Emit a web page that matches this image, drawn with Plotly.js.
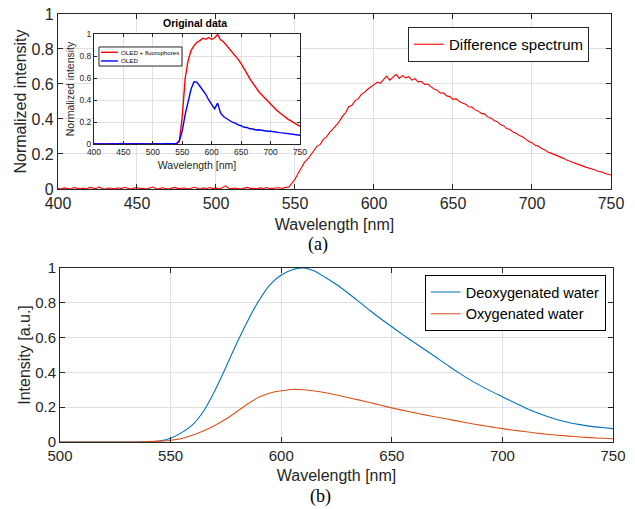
<!DOCTYPE html>
<html>
<head>
<meta charset="utf-8">
<script src="https://cdn.plot.ly/plotly-3.0.1.min.js"></script>
<style>html,body{margin:0;padding:0;background:#fff;}#chart{width:635px;height:509px;}</style>
</head>
<body>
<div id="chart"></div>
<script>
// ---- (a) main: difference spectrum, 400..750 nm every 2 nm ----
const diffStart = 400, diffStep = 2;
const diffValues = [
  0.004,0.000,0.006,0.002,0.000,0.008,0.003,0.001,0.005,0.000,
  0.009,0.004,0.002,0.012,0.003,0.000,0.006,0.004,0.001,0.007,
  0.002,0.010,0.003,0.000,0.005,0.008,0.002,0.004,0.000,0.006,
  0.011,0.003,0.001,0.007,0.004,0.000,0.005,0.009,0.002,0.004,
  0.006,0.001,0.003,0.010,0.004,0.000,0.006,0.003,0.008,0.002,
  0.005,0.001,0.007,0.018,0.004,0.002,0.006,0.003,0.000,0.005,
  0.009,0.002,0.004,0.001,0.006,0.003,0.008,0.002,0.005,0.004,
  0.007,0.003,0.009,0.010,0.030,0.055,0.090,0.118,0.152,0.170,
  0.195,0.215,0.245,0.255,0.285,0.298,0.325,0.342,0.365,0.385,
  0.415,0.435,0.470,0.478,0.505,0.515,0.540,0.552,0.570,0.585,
  0.598,0.610,0.605,0.628,0.645,0.622,0.638,0.655,0.632,0.648,
  0.635,0.642,0.622,0.630,0.612,0.615,0.598,0.600,0.585,0.572,
  0.565,0.548,0.550,0.532,0.528,0.512,0.515,0.500,0.492,0.485,
  0.470,0.468,0.452,0.445,0.432,0.428,0.412,0.405,0.392,0.385,
  0.368,0.362,0.345,0.340,0.325,0.318,0.305,0.298,0.285,0.272,
  0.265,0.250,0.245,0.232,0.225,0.212,0.205,0.198,0.190,0.180,
  0.175,0.165,0.160,0.152,0.145,0.140,0.132,0.125,0.120,0.112,
  0.108,0.100,0.098,0.090,0.087,0.080
];
const diffWavelength = diffValues.map((_, i) => diffStart + diffStep * i);

// ---- (a) inset: original data, 400..750 nm every 5 nm ----
const insetStart = 400, insetStep = 5;
const oledFluorValues = [
  0.002,0.000,0.004,0.001,0.000,0.003,0.000,0.002,0.000,0.004,
  0.001,0.000,0.003,0.000,0.002,0.001,0.000,0.004,0.000,0.002,
  0.001,0.003,0.000,0.002,0.000,0.004,0.001,0.000,0.003,
  0.020,0.250,0.600,0.760,0.850,0.895,0.925,0.940,0.962,0.952,
  0.968,0.950,0.966,0.995,0.948,0.930,0.898,0.872,0.838,0.805,
  0.770,0.730,0.690,0.640,0.592,0.552,0.512,0.475,0.447,0.418,
  0.390,0.362,0.334,0.310,0.287,0.264,0.246,0.224,0.210,0.190,
  0.176,0.160
];
const oledValues = [
  0.001,0.000,0.002,0.000,0.001,0.000,0.003,0.000,0.001,0.002,
  0.000,0.001,0.000,0.002,0.000,0.001,0.003,0.000,0.001,0.000,
  0.002,0.000,0.001,0.000,0.002,0.001,0.000,0.002,0.003,
  0.030,0.120,0.270,0.400,0.500,0.565,0.560,0.525,0.490,0.452,
  0.400,0.362,0.320,0.372,0.282,0.250,0.232,0.212,0.198,0.190,
  0.174,0.166,0.152,0.150,0.138,0.136,0.128,0.129,0.123,0.121,
  0.116,0.116,0.110,0.109,0.103,0.101,0.097,0.094,0.090,0.088,
  0.084,0.080
];
const insetWavelength = oledValues.map((_, i) => insetStart + insetStep * i);
const insetLegendNames = ['OLED + fluorophores', 'OLED'];

// ---- (b): water spectra, 500..750 nm every 5 nm ----
const waterStart = 500, waterStep = 5;
const deoxyValues = [
  0,0,0,0,0,0,0,0,0,
  0.006,0.022,0.054,0.100,0.180,0.295,0.430,0.570,0.700,0.815,
  0.905,0.960,0.990,1.000,0.982,0.945,0.905,0.858,0.808,0.757,
  0.708,0.662,0.617,0.573,0.530,0.487,0.443,0.400,0.360,0.324,
  0.291,0.260,0.229,0.199,0.171,0.148,0.128,0.112,0.100,0.090,
  0.083,0.077
];
const oxyValues = [
  0,0,0,0,0,0,0,0,
  0.002,0.005,0.010,0.020,0.040,0.065,0.095,0.132,0.175,0.220,
  0.258,0.282,0.295,0.302,0.300,0.293,0.283,0.270,0.256,0.242,
  0.227,0.211,0.196,0.182,0.169,0.156,0.144,0.132,0.120,0.108,
  0.097,0.087,0.077,0.068,0.060,0.052,0.045,0.039,0.034,0.029,
  0.025,0.022,0.019
];
const waterWavelength = deoxyValues.map((_, i) => waterStart + waterStep * i);

const xTicksA = [400, 450, 500, 550, 600, 650, 700, 750];
const xTicksB = [500, 550, 600, 650, 700, 750];
const yTicks = [0, 0.2, 0.4, 0.6, 0.8, 1];

const FONT = 'Liberation Sans, Arial, Helvetica, sans-serif';
const AX = '#262626';
const INSET_RED = '#ff0000', INSET_BLUE = '#0000ff';

const traces = [
  {x: diffWavelength, y: diffValues, xaxis: 'x', yaxis: 'y', type: 'scatter', mode: 'lines',
   name: 'Difference spectrum', line: {color: '#ff0000', width: 1.1}, legend: 'legend'},
  {x: waterWavelength, y: deoxyValues, xaxis: 'x2', yaxis: 'y2', type: 'scatter', mode: 'lines',
   name: 'Deoxygenated water', line: {color: '#0072BD', width: 1.1, shape: 'spline', smoothing: 0.8}, legend: 'legend3'},
  {x: waterWavelength, y: oxyValues, xaxis: 'x2', yaxis: 'y2', type: 'scatter', mode: 'lines',
   name: 'Oxygenated water', line: {color: '#D95319', width: 1.1, shape: 'spline', smoothing: 0.8}, legend: 'legend3'},
  {x: insetWavelength, y: oledFluorValues, xaxis: 'x3', yaxis: 'y3', type: 'scatter', mode: 'lines',
   name: insetLegendNames[0], line: {color: INSET_RED, width: 1.4}, showlegend: false},
  {x: insetWavelength, y: oledValues, xaxis: 'x3', yaxis: 'y3', type: 'scatter', mode: 'lines',
   name: insetLegendNames[1], line: {color: INSET_BLUE, width: 1.4}, showlegend: false}
];

function axis(extra) {
  return Object.assign({
    showline: true, linecolor: AX, linewidth: 1, mirror: 'ticks',
    ticks: 'inside', ticklen: 5, tickcolor: AX, tickwidth: 1,
    showgrid: true, gridcolor: '#e0e0e0', gridwidth: 1, zeroline: false,
    tickfont: {family: FONT, size: 16, color: AX}, automargin: false, fixedrange: true
  }, extra);
}

// small inset legend drawn as a box with two line samples and labels
const lg = {x0: 0.1559, x1: 0.2866, y0: 0.8703, y1: 0.9077, lx0: 0.1591, lx1: 0.1858, tx: 0.1874, ya: 0.8972, yb: 0.8802};

const layout = {
  width: 635, height: 509,
  margin: {l: 0, r: 0, t: 0, b: 0},
  paper_bgcolor: '#ffffff', plot_bgcolor: '#ffffff',
  showlegend: true,
  font: {family: FONT, color: AX},
  xaxis: axis({domain: [0.0913, 0.9622], range: [400, 750], anchor: 'y', tickmode: 'array', tickvals: xTicksA,
    title: {text: 'Wavelength [nm]', font: {family: FONT, size: 16, color: AX}, standoff: 7}}),
  yaxis: axis({domain: [0.6287, 0.9725], range: [0, 1], anchor: 'x', tickmode: 'array', tickvals: yTicks,
    title: {text: 'Normalized intensity', font: {family: FONT, size: 16, color: AX}, standoff: 0}}),
  xaxis2: axis({domain: [0.0945, 0.9654], range: [500, 750], anchor: 'y2', tickmode: 'array', tickvals: xTicksB,
    tickfont: {family: FONT, size: 15, color: AX},
    title: {text: 'Wavelength [nm]', font: {family: FONT, size: 16, color: AX}, standoff: 6}}),
  yaxis2: axis({domain: [0.1316, 0.4735], range: [0, 1], anchor: 'x2', tickmode: 'array', tickvals: yTicks,
    tickfont: {family: FONT, size: 15, color: AX},
    title: {text: 'Intensity [a.u.]', font: {family: FONT, size: 16, color: AX}, standoff: 0}}),
  xaxis3: axis({domain: [0.148, 0.4724], range: [400, 750], anchor: 'y3', tickmode: 'array', tickvals: xTicksA,
    ticklen: 3, tickfont: {family: FONT, size: 8.5, color: AX},
    title: {text: 'Wavelength [nm]', font: {family: FONT, size: 10.5, color: AX}, standoff: 5}}),
  yaxis3: axis({domain: [0.7171, 0.9332], range: [0, 1], anchor: 'x3', tickmode: 'array', tickvals: yTicks,
    ticklen: 3, tickfont: {family: FONT, size: 8.5, color: AX},
    title: {text: 'Normalized intensity', font: {family: FONT, size: 10.5, color: AX}, standoff: 2}}),
  legend: {x: 0.9276, xanchor: 'right', y: 0.947, yanchor: 'top', bgcolor: '#ffffff',
    bordercolor: AX, borderwidth: 1, font: {family: FONT, size: 15, color: '#000'}, itemwidth: 30, tracegroupgap: 0},
  legend3: {x: 0.954, xanchor: 'right', y: 0.4597, yanchor: 'top', bgcolor: '#ffffff',
    bordercolor: '#000', borderwidth: 1, font: {family: FONT, size: 14.5, color: '#000'}, itemwidth: 30, tracegroupgap: 0},
  shapes: [
    {type: 'rect', xref: 'paper', yref: 'paper', x0: lg.x0, x1: lg.x1, y0: lg.y0, y1: lg.y1,
     fillcolor: '#ffffff', line: {color: AX, width: 1}},
    {type: 'line', xref: 'paper', yref: 'paper', x0: lg.lx0, x1: lg.lx1, y0: lg.ya, y1: lg.ya,
     line: {color: INSET_RED, width: 1.4}},
    {type: 'line', xref: 'paper', yref: 'paper', x0: lg.lx0, x1: lg.lx1, y0: lg.yb, y1: lg.yb,
     line: {color: INSET_BLUE, width: 1.4}}
  ],
  annotations: [
    {text: insetLegendNames[0], xref: 'paper', yref: 'paper', x: lg.tx, y: lg.ya, showarrow: false,
     xanchor: 'left', yanchor: 'middle', font: {family: FONT, size: 6.2, color: '#000'}},
    {text: insetLegendNames[1], xref: 'paper', yref: 'paper', x: lg.tx, y: lg.yb, showarrow: false,
     xanchor: 'left', yanchor: 'middle', font: {family: FONT, size: 6.2, color: '#000'}},
    {text: '<b>Original data</b>', xref: 'paper', yref: 'paper', x: 0.307, y: 0.9548, showarrow: false,
     xanchor: 'center', yanchor: 'middle', font: {family: FONT, size: 10.5, color: '#000'}},
    {text: '(a)', xref: 'paper', yref: 'paper', x: 0.5008, y: 0.5187, showarrow: false,
     xanchor: 'center', yanchor: 'middle', font: {family: 'Liberation Serif, Times New Roman, serif', size: 18, color: '#000'}},
    {text: '(b)', xref: 'paper', yref: 'paper', x: 0.504, y: 0.0236, showarrow: false,
     xanchor: 'center', yanchor: 'middle', font: {family: 'Liberation Serif, Times New Roman, serif', size: 18, color: '#000'}}
  ]
};

Plotly.newPlot('chart', traces, layout, {displayModeBar: false, staticPlot: true});
</script>
</body>
</html>
